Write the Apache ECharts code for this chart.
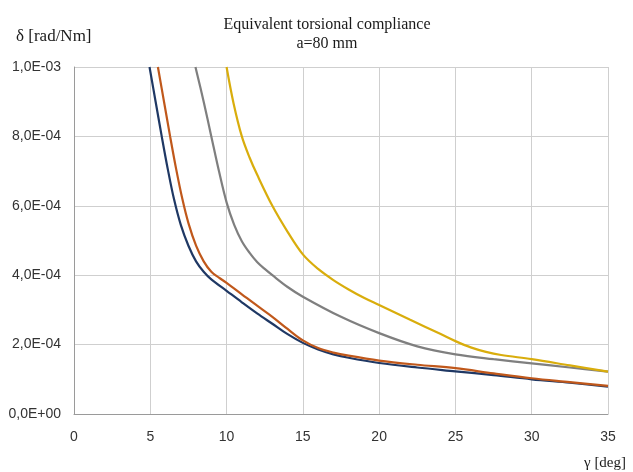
<!DOCTYPE html>
<html>
<head>
<meta charset="utf-8">
<script src="https://cdn.jsdelivr.net/npm/echarts@6/dist/echarts.min.js"></script>
<style>
html,body{margin:0;padding:0;background:#fff;}
#c{width:633px;height:472px;}
</style>
</head>
<body>
<div id="c"></div>
<script>
// ---- data ----
const titleLine1 = 'Equivalent torsional compliance';
const titleLine2 = 'a=80 mm';
const yName = 'δ [rad/Nm]';
const xName = 'γ [deg]';

const xTicks = [0, 5, 10, 15, 20, 25, 30, 35];
const yTicks = [0, 2.0e-4, 4.0e-4, 6.0e-4, 8.0e-4, 1.0e-3];

const navyX = [4.95, 5.35, 5.75, 6.15, 6.55, 7, 7.5, 8, 8.5, 9, 10, 11, 12, 13, 14, 15, 16, 17, 18, 20, 22.5, 25, 27.5, 30, 32.5, 35];
const navyY = [10.0e-4, 9.0e-4, 8.0e-4, 7.05e-4, 6.2e-4, 5.45e-4, 4.85e-4, 4.4e-4, 4.1e-4, 3.88e-4, 3.55e-4, 3.22e-4, 2.9e-4, 2.6e-4, 2.3e-4, 2.05e-4, 1.86e-4, 1.72e-4, 1.62e-4, 1.47e-4, 1.34e-4, 1.23e-4, 1.12e-4, 1.0e-4, 0.9e-4, 0.79e-4];

const orangeX = [5.5, 5.9, 6.3, 6.7, 7.1, 7.5, 8, 8.5, 9, 9.5, 10, 11, 12, 13, 14, 15, 16, 17, 18, 20, 22.5, 25, 27.5, 30, 32.5, 35];
const orangeY = [10.0e-4, 9.0e-4, 8.0e-4, 7.05e-4, 6.2e-4, 5.5e-4, 4.85e-4, 4.4e-4, 4.1e-4, 3.93e-4, 3.78e-4, 3.45e-4, 3.12e-4, 2.8e-4, 2.45e-4, 2.12e-4, 1.9e-4, 1.77e-4, 1.68e-4, 1.54e-4, 1.42e-4, 1.32e-4, 1.17e-4, 1.03e-4, 0.92e-4, 0.81e-4];

const grayX = [7.96, 8.5, 9, 9.5, 10, 10.5, 11, 11.5, 12, 12.5, 13, 14, 15, 17.5, 20, 22.5, 25, 27.5, 30, 32.5, 35];
const grayY = [10.0e-4, 9.0e-4, 8.0e-4, 7.0e-4, 6.1e-4, 5.45e-4, 4.98e-4, 4.65e-4, 4.38e-4, 4.18e-4, 4.0e-4, 3.66e-4, 3.38e-4, 2.8e-4, 2.33e-4, 1.95e-4, 1.72e-4, 1.58e-4, 1.46e-4, 1.34e-4, 1.22e-4];

const yellowX = [10, 10.46, 11, 11.5, 12, 13, 14, 15, 16, 17, 18, 19, 20, 22, 24, 25, 26, 27, 28, 30, 32.5, 35];
const yellowY = [10.0e-4, 8.95e-4, 8.0e-4, 7.4e-4, 6.9e-4, 6.0e-4, 5.25e-4, 4.6e-4, 4.18e-4, 3.86e-4, 3.59e-4, 3.35e-4, 3.14e-4, 2.72e-4, 2.31e-4, 2.1e-4, 1.92e-4, 1.79e-4, 1.7e-4, 1.58e-4, 1.4e-4, 1.22e-4];

// ---- chart ----
function pairs(xs, ys) { return xs.map((x, i) => [x, ys[i]]); }
function fmtY(v) {
  const s = Number(v).toExponential(1); // e.g. "6.0e-4"
  const parts = s.split('e');
  const mant = parts[0].replace('.', ',');
  const exp = parseInt(parts[1], 10);
  const sign = exp < 0 ? '-' : '+';
  const ab = Math.abs(exp);
  return mant + 'E' + sign + (ab < 10 ? '0' + ab : '' + ab);
}

const chart = echarts.init(document.getElementById('c'), null, {renderer: 'canvas'});
const serif = '"Liberation Serif", "DejaVu Serif", serif';
const sans = '"Liberation Sans", Arial, sans-serif';

const lineDefs = [
  {name: 'navy', x: navyX, y: navyY, color: '#1f3864'},
  {name: 'orange', x: orangeX, y: orangeY, color: '#c0581b'},
  {name: 'gray', x: grayX, y: grayY, color: '#7f7f7f'},
  {name: 'yellow', x: yellowX, y: yellowY, color: '#d9ad0c'}
];

chart.setOption({
  backgroundColor: '#ffffff',
  animation: false,
  title: [
    {
      text: titleLine1 + '\n' + titleLine2,
      left: 322, top: 10, textAlign: 'center',
      textStyle: {fontFamily: serif, fontSize: 16, fontWeight: 'normal', color: '#1a1a1a', lineHeight: 19, align: 'center'}
    },
    {
      text: yName, left: 11, top: 23,
      textStyle: {fontFamily: serif, fontSize: 17, fontWeight: 'normal', color: '#1a1a1a'}
    },
    {
      text: xName, left: 579, top: 451,
      textStyle: {fontFamily: serif, fontSize: 15, fontWeight: 'normal', color: '#1a1a1a'}
    }
  ],
  grid: {left: 74, right: 25, top: 67, bottom: 58, containLabel: false},
  xAxis: {
    type: 'value', min: xTicks[0], max: xTicks[xTicks.length - 1], interval: 5,
    axisLine: {show: true, onZero: false, lineStyle: {color: '#9a9a9a', width: 1}},
    axisTick: {show: false},
    splitLine: {show: true, lineStyle: {color: '#cfcfcf', width: 1}},
    axisLabel: {fontFamily: sans, fontSize: 14, color: '#333333', margin: 16}
  },
  yAxis: {
    type: 'value', min: yTicks[0], max: yTicks[yTicks.length - 1], interval: 2.0e-4,
    axisLine: {show: true, lineStyle: {color: '#9a9a9a', width: 1}},
    axisTick: {show: false},
    splitLine: {show: true, lineStyle: {color: '#cfcfcf', width: 1}},
    axisLabel: {fontFamily: sans, fontSize: 14, color: '#333333', margin: 13, formatter: fmtY}
  },
  series: lineDefs.map(d => ({
    name: d.name, type: 'line', data: pairs(d.x, d.y),
    smooth: 0.35, showSymbol: false, clip: true,
    lineStyle: {color: d.color, width: 2.2},
    itemStyle: {color: d.color}
  }))
});
</script>
</body>
</html>
